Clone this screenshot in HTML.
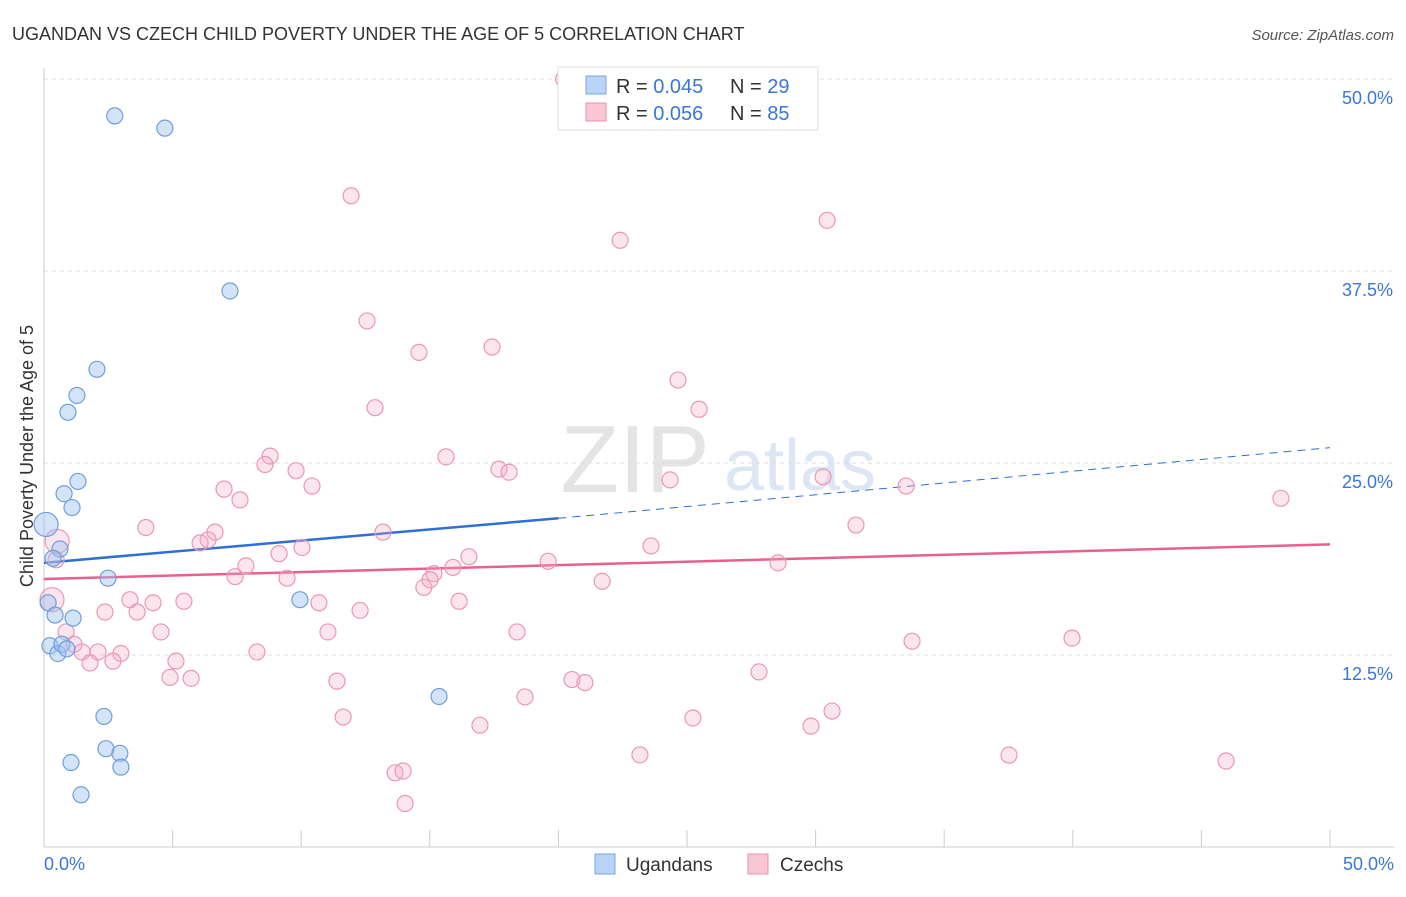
<!DOCTYPE html>
<html><head><meta charset="utf-8"><style>
body{margin:0;background:#fff;font-family:"Liberation Sans",sans-serif;}
svg text{font-family:"Liberation Sans",sans-serif;}
</style></head><body>
<svg id="c" width="1406" height="892" xmlns="http://www.w3.org/2000/svg">
<text x="12" y="40" font-size="18" fill="#333">UGANDAN VS CZECH CHILD POVERTY UNDER THE AGE OF 5 CORRELATION CHART</text>
<text x="1394" y="40" font-size="15" fill="#555" text-anchor="end" font-style="italic">Source: ZipAtlas.com</text>
<text x="635" y="492" font-size="96" fill="#e4e4e4" font-family="Liberation Serif" text-anchor="middle">ZIP</text>
<text x="800" y="490" font-size="72" fill="#dce6f4" text-anchor="middle">atlas</text>
<g id="grid"></g><g id="axes"></g><g id="trend"></g><g id="pts"></g>
<text x="33" y="456" font-size="18" fill="#333" text-anchor="middle" transform="rotate(-90 33 456)">Child Poverty Under the Age of 5</text>
<g>
<rect x="558" y="67" width="260" height="63" fill="#fff" stroke="#ddd"/>
<rect x="586" y="76" width="20" height="18" fill="#b8d3f5" stroke="#7aa7e0"/>
<rect x="586" y="103" width="20" height="18" fill="#f9c6d6" stroke="#e890ac"/>
<text x="616" y="93" font-size="20" fill="#333">R = <tspan fill="#3a76d8">0.045</tspan></text>
<text x="730" y="93" font-size="20" fill="#333">N = <tspan fill="#3a76d8">29</tspan></text>
<text x="616" y="120" font-size="20" fill="#333">R = <tspan fill="#3a76d8">0.056</tspan></text>
<text x="730" y="120" font-size="20" fill="#333">N = <tspan fill="#3a76d8">85</tspan></text>
</g>
<g>
<rect x="595" y="854" width="20" height="20" fill="#b8d3f5" stroke="#7aa7e0"/>
<text x="626" y="871" font-size="19" fill="#333">Ugandans</text>
<rect x="748" y="854" width="20" height="20" fill="#f9c6d6" stroke="#e890ac"/>
<text x="780" y="871" font-size="19" fill="#333">Czechs</text>
</g>
</svg>
<script>
const yTicks=[12.5,25,37.5,50];
const yTickLabels=["12.5%","25.0%","37.5%","50.0%"];
const blueX=[2.75,4.7,7.23,2.06,1.28,0.93,1.32,0.78,1.09,0.08,0.62,0.35,2.49,9.95,0.16,0.43,1.13,0.23,0.54,0.7,0.89,2.33,15.36,2.41,2.95,1.05,2.99,1.44];
const blueY=[47.6,46.8,36.2,31.1,29.4,28.3,23.8,23.0,22.1,21.0,19.4,18.8,17.5,16.1,15.9,15.1,14.9,13.1,12.6,13.2,12.9,8.5,9.8,6.4,6.1,5.5,5.2,3.4];
const blueR=[8,8,8,8,8,8,8,8,8,12,8,8,8,8,8,8,8,8,8,8,8,8,8,8,8,8,8,8];
const pinkX=[20.2,11.94,30.45,22.4,12.56,14.58,17.42,24.65,12.87,25.47,15.63,8.79,8.59,9.8,10.42,17.69,18.08,24.34,30.29,33.52,48.09,7.0,7.62,3.96,6.65,6.38,6.07,13.18,31.57,0.51,0.47,9.14,10.03,7.85,23.6,19.6,16.52,15.9,28.54,7.43,9.45,15.16,15.01,14.77,21.7,3.34,4.24,5.44,16.14,10.69,12.29,2.37,3.62,0.31,4.55,11.04,18.39,0.86,1.17,1.48,2.1,2.99,8.28,2.68,1.79,5.13,33.75,39.97,4.9,5.72,11.39,20.53,21.03,27.8,18.7,30.64,11.63,16.95,25.23,29.82,23.17,37.52,45.96,13.65,13.96,14.04];
const pinkY=[50.0,42.4,40.8,39.5,34.25,32.2,32.55,30.4,28.6,28.5,25.4,25.45,24.9,24.5,23.5,24.6,24.4,23.9,24.1,23.5,22.7,23.3,22.6,20.8,20.5,20.0,19.8,20.5,20.96,19.9,18.7,19.1,19.5,18.3,19.6,18.6,18.9,18.2,18.5,17.6,17.5,17.8,17.4,16.9,17.3,16.1,15.9,16.0,16.0,15.9,15.4,15.3,15.3,16.1,14.0,14.0,14.0,14.0,13.2,12.7,12.7,12.6,12.7,12.1,11.98,12.1,13.4,13.6,11.04,10.98,10.8,10.9,10.7,11.4,9.77,8.85,8.46,7.93,8.4,7.87,6.0,5.98,5.6,4.83,4.95,2.83];
const pinkBig=[29,53];
const blueTrend=[[0,18.5],[20,21.4],[50,26.0]];
const pinkTrend=[[0,17.45],[50,19.7]];
const X=v=>44+v*25.72, Y=v=>847-v*15.36;
const ns="http://www.w3.org/2000/svg";
function mk(t,a,p){const e=document.createElementNS(ns,t);for(const k in a)e.setAttribute(k,a[k]);document.getElementById(p).appendChild(e);return e;}
yTicks.forEach((t,i)=>{
 const l=mk('line',{x1:44,x2:1394,y1:Y(t),y2:Y(t),stroke:'#ddd','stroke-dasharray':'4,4'},'grid');
 
 
 const tx=mk('text',{x:1393,y:Y(t)+25,'font-size':18,fill:'#3a76d8','text-anchor':'end'},'grid');
 tx.textContent=yTickLabels[i];
 
 
});
let a=mk('line',{x1:44,x2:44,y1:68,y2:847,stroke:'#ccc'},'axes');

a=mk('line',{x1:44,x2:1394,y1:847,y2:847,stroke:'#ccc'},'axes');

for(let i=0;i<=10;i++){const t=mk('line',{x1:X(i*5),x2:X(i*5),y1:830,y2:847,stroke:'#ccc'},'axes');
 
 }
[["0.0%",44,'start'],["50.0%",1394,'end']].forEach(d=>{const t=mk('text',{x:d[1],y:870,'font-size':18,fill:'#3a76d8','text-anchor':d[2]},'axes');t.textContent=d[0];
 
 });
let tl=mk('line',{x1:X(blueTrend[0][0]),y1:Y(blueTrend[0][1]),x2:X(blueTrend[1][0]),y2:Y(blueTrend[1][1]),stroke:'#2f6fd6','stroke-width':2.5},'trend');

tl=mk('line',{x1:X(blueTrend[1][0]),y1:Y(blueTrend[1][1]),x2:X(blueTrend[2][0]),y2:Y(blueTrend[2][1]),stroke:'#2f6fd6','stroke-width':1,'stroke-dasharray':'8,6'},'trend');

tl=mk('line',{x1:X(pinkTrend[0][0]),y1:Y(pinkTrend[0][1]),x2:X(pinkTrend[1][0]),y2:Y(pinkTrend[1][1]),stroke:'#e8608e','stroke-width':2.5},'trend');

pinkX.forEach((v,i)=>{const c=mk('circle',{cx:X(v),cy:Y(pinkY[i]),r:pinkBig.includes(i)?12:8,fill:'rgba(245,170,195,0.3)',stroke:'#eb97b4','stroke-width':1.2},'pts');
 
 });
blueX.forEach((v,i)=>{const c=mk('circle',{cx:X(v),cy:Y(blueY[i]),r:blueR[i],fill:'rgba(160,195,240,0.45)',stroke:'#6f9ede','stroke-width':1.2},'pts');
 
 });
</script>
</body></html>
